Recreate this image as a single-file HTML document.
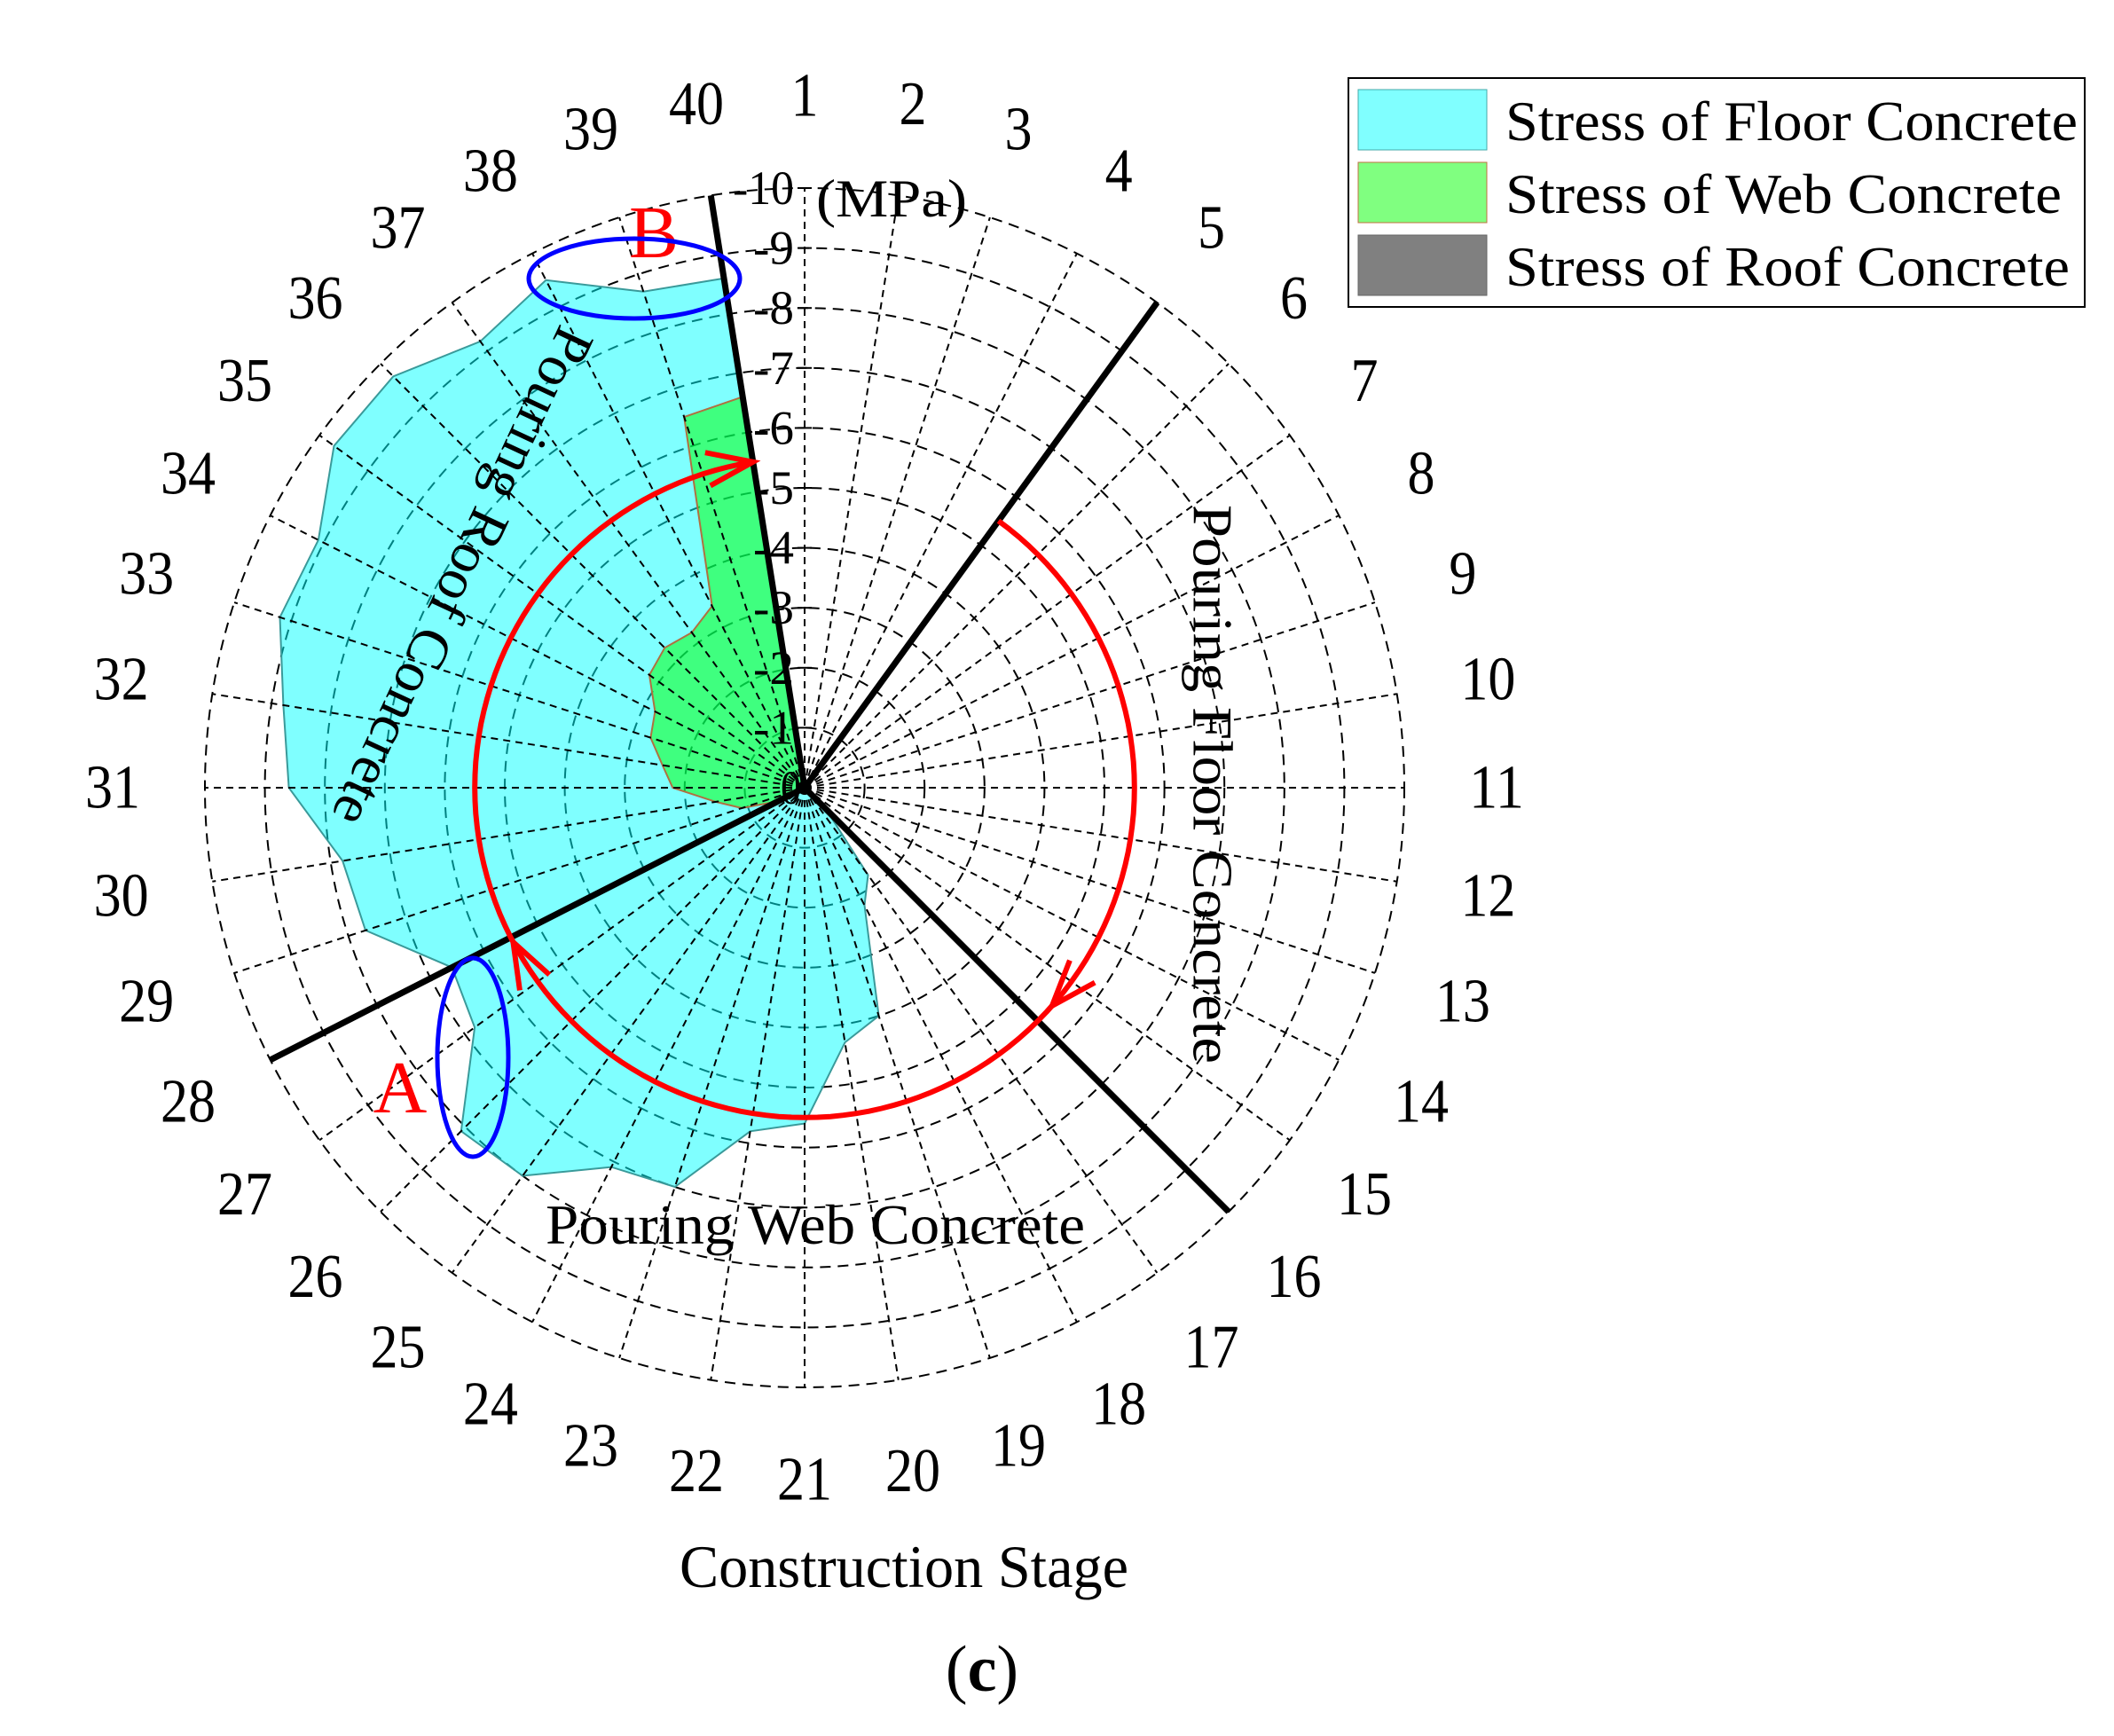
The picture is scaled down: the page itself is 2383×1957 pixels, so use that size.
<!DOCTYPE html>
<html><head><meta charset="utf-8"><style>
html,body{margin:0;padding:0;background:#fff}
svg{display:block}
text{font-family:"Liberation Serif",serif;fill:#000}
</style></head><body>
<svg id="chart" width="2383" height="1957" viewBox="0 0 2383 1957" xmlns="http://www.w3.org/2000/svg">
<g id="rings"></g>
<g id="fills"></g>
<g id="spokes"></g>
<g id="marks"></g>
<g id="labels"></g>

<text x="0" y="0" font-size="64" text-anchor="middle" dominant-baseline="central" transform="translate(522,650) rotate(115)" textLength="612" lengthAdjust="spacingAndGlyphs">Pouring Roof Concrete</text>
<text x="0" y="0" font-size="64" text-anchor="middle" dominant-baseline="central" transform="translate(1367,884) rotate(90)" textLength="630" lengthAdjust="spacingAndGlyphs">Pouring Floor Concrete</text>
<text x="919" y="1402" font-size="64" text-anchor="middle" textLength="608" lengthAdjust="spacingAndGlyphs">Pouring Web Concrete</text>
<text x="1019" y="1789" font-size="68" text-anchor="middle" textLength="506" lengthAdjust="spacingAndGlyphs">Construction Stage</text>
<text x="1107" y="1906" font-size="74" text-anchor="middle">(<tspan font-weight="bold">c</tspan>)</text>
<text x="920" y="244" font-size="60" textLength="170" lengthAdjust="spacingAndGlyphs">(MPa)</text>
<text x="451" y="1254" font-size="84" text-anchor="middle" style="fill:#f00">A</text>
<text x="737" y="290" font-size="84" text-anchor="middle" style="fill:#f00">B</text>
<ellipse cx="533" cy="1192" rx="40" ry="112" fill="none" stroke="#0000ff" stroke-width="5"/>
<ellipse cx="715" cy="314" rx="119" ry="45" fill="none" stroke="#0000ff" stroke-width="5"/>

<g>
<rect x="1520" y="88" width="830" height="258" fill="#fff" stroke="#000" stroke-width="2"/>
<rect x="1531" y="101" width="145" height="68" fill="#80ffff" stroke="#4aa" stroke-width="1"/>
<rect x="1531" y="183" width="145" height="68" fill="#80ff80" stroke="#c07040" stroke-width="1"/>
<rect x="1531" y="265" width="145" height="68" fill="#808080" stroke="#666" stroke-width="1"/>
<text x="1697" y="158" font-size="64" textLength="645" lengthAdjust="spacingAndGlyphs">Stress of Floor Concrete</text>
<text x="1697" y="240" font-size="64" textLength="627" lengthAdjust="spacingAndGlyphs">Stress of Web Concrete</text>
<text x="1697" y="322" font-size="64" textLength="636" lengthAdjust="spacingAndGlyphs">Stress of Roof Concrete</text>
</g>
</svg>
<script>
const stages = Array.from({length:40},(_,i)=>i+1);
const floorStress = [0,0,0,0,0,0,0,0,0,0,0,0,0,0,0,-0.5,-1.8,-2.2,-4.0,-4.3,-5.6,-5.8,-7.0,-7.1,-8.0,-8.1,-6.8,-6.6,-7.7,-7.8,-8.6,-8.8,-9.2,-9.1,-9.7,-9.7,-9.2,-9.5,-8.7,-8.6];
const webStress = [0,0,0,0,0,0,0,0,0,0,0,0,0,0,0,0,0,0,0,0,0,0,0,0,0,0,0,-0.5,-1.1,-1.5,-2.2,-2.4,-2.7,-2.8,-3.2,-3.3,-3.2,-3.4,-6.5,-6.6];
const roofStress = new Array(40).fill(0);
const radialTicks = [0,-1,-2,-3,-4,-5,-6,-7,-8,-9,-10];
const phaseStages = [5,16,28,40];
const pathValue = -5.5;
const pathStart = 5, pathEnd = 40, arrowStages = [15.6, 27.9, 40];

const NS='http://www.w3.org/2000/svg';
const CX=907, CY=888, R=676, LABEL_R=780;
function ang(stage){return (stage-1)*9*Math.PI/180;}
function rad(v){return -v/10*R;}
function pt(stage,v){const a=ang(stage),r=rad(v);return [CX+r*Math.sin(a), CY-r*Math.cos(a)];}
function mk(tag,attrs,parent){const e=document.createElementNS(NS,tag);for(const k in attrs)e.setAttribute(k,attrs[k]);parent.appendChild(e);return e;}

const rings=document.getElementById('rings');
radialTicks.forEach(t=>{ if(t===0) return;
  const c=mk('circle',{cx:CX,cy:CY,r:rad(t),fill:'none',stroke:'#000','stroke-width':2,'stroke-dasharray':'12 8'},rings);
  
  
});

const fills=document.getElementById('fills');
function area(vals,fill,stroke,name){
  const d=vals.map((v,i)=>pt(stages[i],v).map(n=>n.toFixed(1)).join(',')).join(' ');
  const p=mk('polygon',{points:d,fill:fill,'fill-opacity':0.5,stroke:stroke,'stroke-width':2},fills);
  
  
}
area(floorStress,'#00ffff','#3a9a9a','floor-stress-area');
area(webStress,'#00ff00','#b07040','web-stress-area');
area(roofStress,'#000000','#555','roof-stress-area');

const spokes=document.getElementById('spokes');
stages.forEach(s=>{
  const [x,y]=pt(s,-10);
  const l=mk('line',{x1:CX,y1:CY,x2:x,y2:y,stroke:'#000','stroke-width':2,'stroke-dasharray':'8 6'},spokes);
  
  
});

const labels=document.getElementById('labels');
stages.forEach(s=>{
  const a=ang(s);
  const str=String(s);
  const t=mk('text',{x:CX+LABEL_R*Math.sin(a),y:CY-LABEL_R*Math.cos(a),'font-size':70,'text-anchor':'middle','dominant-baseline':'central',textLength:str.length*31,lengthAdjust:'spacingAndGlyphs'},labels);
  t.textContent=str;
  
  
});
radialTicks.forEach(t=>{
  const y=CY-rad(t);
  const str=String(t);
  const tx=mk('text',{x:t===0?CX-4:CX-12,y:y,'font-size':54,'text-anchor':'end','dominant-baseline':'central',textLength:str.length*23,lengthAdjust:'spacingAndGlyphs'},labels);
  tx.textContent=str;
  
  
  const tk=mk('line',{x1:CX-8,y1:y,x2:CX+8,y2:y,stroke:'#000','stroke-width':2},labels);
  
  
});

const marks=document.getElementById('marks');
phaseStages.forEach(s=>{
  const [x,y]=pt(s,-10);
  const l=mk('line',{x1:CX,y1:CY,x2:x,y2:y,stroke:'#000','stroke-width':7},marks);
  
  
});
let d='';
for(let s=pathStart;s<=pathEnd+0.001;s+=0.25){const [x,y]=pt(s,pathValue);d+=(d?'L':'M')+x.toFixed(1)+','+y.toFixed(1);}
const path=mk('path',{d:d,fill:'none',stroke:'#ff0000','stroke-width':6},marks);


arrowStages.forEach(s=>{
  const [tx,ty]=pt(s,pathValue);
  const a=ang(s);
  const dir=[Math.cos(a),Math.sin(a)];
  const L=55, w=0.35;
  const b1=[tx-L*(dir[0]*Math.cos(w)-dir[1]*Math.sin(w)), ty-L*(dir[1]*Math.cos(w)+dir[0]*Math.sin(w))];
  const b2=[tx-L*(dir[0]*Math.cos(-w)-dir[1]*Math.sin(-w)), ty-L*(dir[1]*Math.cos(-w)+dir[0]*Math.sin(-w))];
  const ar=mk('polyline',{points:`${b1[0]},${b1[1]} ${tx},${ty} ${b2[0]},${b2[1]}`,fill:'none',stroke:'#ff0000','stroke-width':6},marks);
  
  
});
</script>
</body></html>
